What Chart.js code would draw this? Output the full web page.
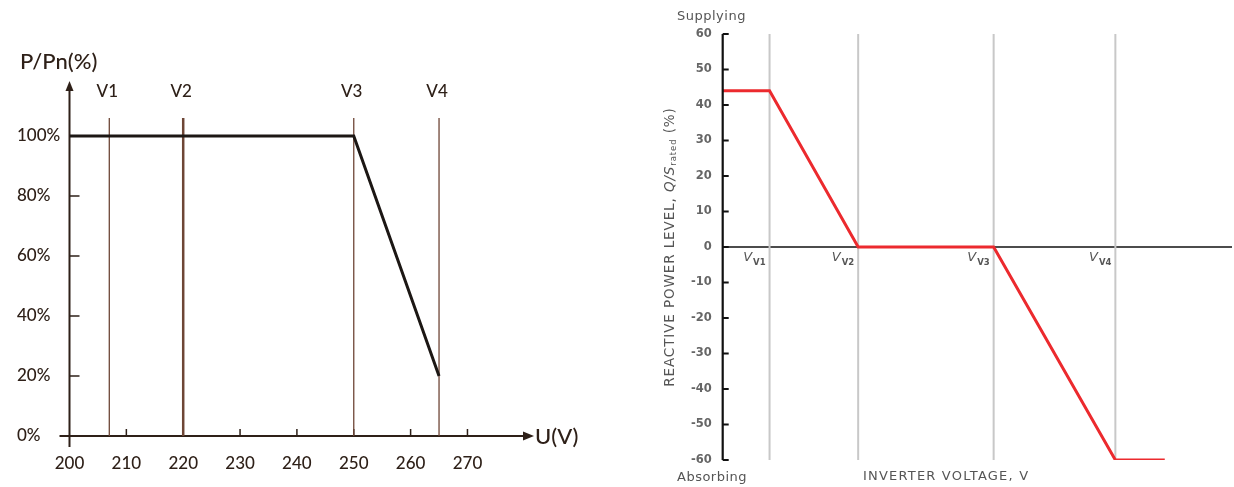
<!DOCTYPE html>
<html>
<head>
<meta charset="utf-8">
<script src="https://cdn.jsdelivr.net/npm/chart.js@4.4.1/dist/chart.umd.min.js"></script>
<style>
html,body{margin:0;padding:0;background:#fff;}
#wrap{position:relative;width:1234px;height:487px;}
canvas{position:absolute;top:0;}
#powerChart{left:0;}
#varChart{left:617px;}
</style>
</head>
<body>
<div id="wrap">
<canvas id="powerChart" width="617" height="487"></canvas>
<canvas id="varChart" width="617" height="487"></canvas>
</div>
<script>
// Left: P/Pn vs grid voltage
const pVoltage = [200, 250, 265];
const pPower = [100, 100, 20];
const pMarkers = [207, 220, 250, 265];
const pMarkerNames = ["V1", "V2", "V3", "V4"];
const pMarkerTop = 106;
const pXTicks = [200, 210, 220, 230, 240, 250, 260, 270];
const pYTicks = [0, 20, 40, 60, 80, 100];

// Right: volt-var curve, x axis has no units
const qVoltage = [0, 9.2, 26.6, 53.2, 77.1, 86.8];
const qLevel = [44, 44, 0, 0, -60, -60];
const qMarkers = [9.2, 26.6, 53.2, 77.1];
const qMarkerNames = ["V1", "V2", "V3", "V4"];
const qYTicks = [-60, -50, -40, -30, -20, -10, 0, 10, 20, 30, 40, 50, 60];

const brown = "#2e2018";
const markerBrown = "#6e4636";
const leftFont = "Lato, 'Open Sans', sans-serif";
const grey = "#555";
const rightFont = "'DejaVu Sans', Arial, sans-serif";

function points(xs, ys){
    return xs.map((x,i)=>({x:x, y:ys[i]}));
}

// ---------- left chart ----------

const powerAxes = {
    id:"powerAxes",
    beforeDatasetsDraw(chart){
        const {ctx, chartArea:a, scales:{x,y}} = chart;
        const x0 = x.getPixelForValue(pXTicks[0]);
        const y0 = y.getPixelForValue(0);
        ctx.save();
        ctx.strokeStyle = brown;
        ctx.fillStyle = brown;
        ctx.lineWidth = 2;
        ctx.beginPath();
        ctx.moveTo(x0, y0+11); ctx.lineTo(x0, a.top+6);
        ctx.moveTo(x0-10, y0); ctx.lineTo(a.right-4, y0);
        ctx.stroke();

        // arrow heads
        ctx.beginPath();
        ctx.moveTo(x0, a.top-1); ctx.lineTo(x0-4, a.top+9); ctx.lineTo(x0+4, a.top+9);
        ctx.closePath(); ctx.fill();
        ctx.beginPath();
        ctx.moveTo(a.right+4, y0); ctx.lineTo(a.right-7, y0-4.5); ctx.lineTo(a.right-7, y0+4.5);
        ctx.closePath(); ctx.fill();

        // tick marks
        ctx.lineWidth = 1.5;
        ctx.beginPath();
        pYTicks.forEach(v=>{
            if(v===0) return;
            const py = y.getPixelForValue(v);
            ctx.moveTo(x0, py); ctx.lineTo(x0+10, py);
        });
        pXTicks.forEach(v=>{
            if(v===pXTicks[0]) return;
            const px = x.getPixelForValue(v);
            ctx.moveTo(px, y0); ctx.lineTo(px, y0-7);
        });
        ctx.stroke();
        ctx.restore();
    },
    afterDraw(chart){
        const {ctx, chartArea:a, scales:{x,y}} = chart;
        ctx.save();
        ctx.fillStyle = brown;
        ctx.textBaseline = "middle";
        ctx.textAlign = "left";
        ctx.font = "500 22px " + leftFont;
        ctx.fillText("P/Pn(%)", 20, 62);
        ctx.fillText("U(V)", a.right+5, y.getPixelForValue(0)+1);

        ctx.font = "500 17px " + leftFont;
        ctx.textAlign = "center";
        pMarkers.forEach((m,i)=>{
            ctx.fillText(pMarkerNames[i], x.getPixelForValue(m)-2, 92);
        });
        ctx.restore();
    }
};

const pDatasets = [{
    data:points(pVoltage, pPower),
    borderColor:"#1c1714",
    borderWidth:3,
    pointRadius:0,
    tension:0
}];

pMarkers.forEach((m,i)=>{
    pDatasets.push({
        data:[{x:m, y:0}, {x:m, y:pMarkerTop}],
        borderColor:markerBrown,
        borderWidth:i===1 ? 2.5 : 1.3,
        pointRadius:0
    });
});

new Chart(document.getElementById("powerChart"),{
    type:"line",
    data:{datasets:pDatasets},
    options:{
        responsive:false,
        animation:false,
        events:[],
        layout:{padding:{left:17, top:82, right:87, bottom:0}},
        plugins:{legend:{display:false}, tooltip:{enabled:false}},
        scales:{
            x:{
                type:"linear",
                min:200,
                max:281,
                grid:{display:false, drawTicks:false},
                border:{display:false},
                afterBuildTicks:s=>{ s.ticks = pXTicks.map(v=>({value:v})); },
                afterFit:s=>{ s.height = 51; },
                ticks:{
                    autoSkip:false,
                    maxRotation:0,
                    padding:17,
                    color:brown,
                    font:{family:leftFont, size:17, weight:500}
                }
            },
            y:{
                min:0,
                max:118,
                grid:{display:false, drawTicks:false},
                border:{display:false},
                afterBuildTicks:s=>{ s.ticks = pYTicks.map(v=>({value:v})); },
                afterFit:s=>{ s.width = 52.5; },
                ticks:{
                    crossAlign:"far",
                    color:brown,
                    font:{family:leftFont, size:17, weight:500},
                    callback:v=>v+"%"
                }
            }
        }
    },
    plugins:[powerAxes]
});

// ---------- right chart ----------

const varAxes = {
    id:"varAxes",
    beforeDatasetsDraw(chart){
        const {ctx, chartArea:a, scales:{y}} = chart;
        const y0 = y.getPixelForValue(0);
        ctx.save();
        ctx.strokeStyle = "#111";
        ctx.lineWidth = 1.6;
        ctx.beginPath();
        ctx.moveTo(a.left, y0); ctx.lineTo(a.right, y0);
        ctx.stroke();
        ctx.restore();
    },
    afterDatasetsDraw(chart){
        const {ctx, chartArea:a, scales:{y}} = chart;
        ctx.save();
        ctx.strokeStyle = "#111";
        ctx.lineWidth = 2.2;
        ctx.beginPath();
        ctx.moveTo(a.left, y.getPixelForValue(qYTicks[qYTicks.length-1]));
        ctx.lineTo(a.left, y.getPixelForValue(qYTicks[0]));
        qYTicks.forEach(v=>{
            const py = y.getPixelForValue(v);
            ctx.moveTo(a.left, py); ctx.lineTo(a.left+6, py);
        });
        ctx.stroke();
        ctx.restore();
    },
    afterDraw(chart){
        const {ctx, chartArea:a, scales:{x,y}} = chart;
        const off = 617;
        ctx.save();
        ctx.fillStyle = grey;
        ctx.textBaseline = "middle";
        ctx.letterSpacing = "0.5px";
        ctx.font = "13px " + rightFont;
        ctx.textAlign = "left";
        ctx.fillText("Supplying", 677-off, 17);
        ctx.fillText("Absorbing", 677-off, 478);
        ctx.letterSpacing = "1.2px";
        ctx.fillText("INVERTER VOLTAGE, V", 863-off, 477);

        // V labels under zero line
        const y0 = y.getPixelForValue(0);
        qMarkers.forEach((m,i)=>{
            const gx = x.getPixelForValue(m);
            ctx.letterSpacing = "0px";
            ctx.font = "bold 8.5px " + rightFont;
            ctx.textAlign = "right";
            ctx.fillText(qMarkerNames[i], gx-4, y0+16);
            const w = ctx.measureText(qMarkerNames[i]).width;
            ctx.font = "italic 13px " + rightFont;
            ctx.fillText("V", gx-5-w, y0+11);
        });

        // rotated y title
        ctx.translate(670-off, 247);
        ctx.rotate(-Math.PI/2);
        ctx.letterSpacing = "0.9px";
        const parts = [
            {t:"REACTIVE POWER LEVEL, ", f:"13.5px "+rightFont, dy:0},
            {t:"Q/S", f:"italic 13.5px "+rightFont, dy:0},
            {t:"rated", f:"8.5px "+rightFont, dy:4},
            {t:" (%)", f:"13.5px "+rightFont, dy:0}
        ];
        let total = 0;
        parts.forEach(p=>{ ctx.font = p.f; p.w = ctx.measureText(p.t).width; total += p.w; });
        let cx = -total/2;
        ctx.textAlign = "left";
        parts.forEach(p=>{
            ctx.font = p.f;
            ctx.fillText(p.t, cx, p.dy);
            cx += p.w;
        });
        ctx.restore();
    }
};

const qDatasets = [{
    data:points(qVoltage, qLevel),
    borderColor:"#ec2a2e",
    borderWidth:3,
    pointRadius:0,
    tension:0
}];

qMarkers.forEach(m=>{
    qDatasets.push({
        data:[{x:m, y:qYTicks[0]}, {x:m, y:qYTicks[qYTicks.length-1]}],
        borderColor:"#c8c8c8",
        borderWidth:2,
        pointRadius:0
    });
});

new Chart(document.getElementById("varChart"),{
    type:"line",
    data:{datasets:qDatasets},
    options:{
        responsive:false,
        animation:false,
        events:[],
        layout:{padding:{left:0, top:34, right:2, bottom:0}},
        plugins:{legend:{display:false}, tooltip:{enabled:false}},
        scales:{
            x:{
                type:"linear",
                min:0,
                max:100,
                grid:{display:false, drawTicks:false},
                border:{display:false},
                ticks:{display:false},
                afterFit:s=>{ s.height = 27; }
            },
            y:{
                min:-60,
                max:60,
                grid:{display:false, drawTicks:false},
                border:{display:false},
                afterBuildTicks:s=>{ s.ticks = qYTicks.map(v=>({value:v})); },
                afterFit:s=>{ s.width = 105.7; },
                ticks:{
                    padding:11,
                    color:"#666",
                    font:{family:rightFont, size:11.5, weight:"bold"}
                }
            }
        }
    },
    plugins:[varAxes]
});
</script>
</body>
</html>
